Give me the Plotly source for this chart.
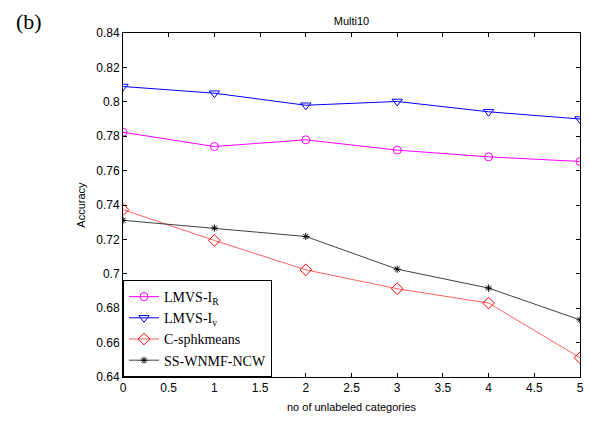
import plotly.graph_objects as go

x_vals = [0, 1, 2, 3, 4, 5]
lmvs_ir = [0.7823, 0.7740, 0.7779, 0.7719, 0.7680, 0.7653]
lmvs_iv = [0.8089, 0.8050, 0.7980, 0.8002, 0.7942, 0.7900]
c_sphk = [0.7373, 0.7194, 0.7023, 0.6913, 0.6830, 0.6512]
ss_wnmf = [0.7311, 0.7266, 0.7217, 0.7027, 0.6917, 0.6732]

y_ticks = [0.64, 0.66, 0.68, 0.70, 0.72, 0.74, 0.76, 0.78, 0.80, 0.82, 0.84]
y_tick_text = ["0.64", "0.66", "0.68", "0.7", "0.72", "0.74", "0.76", "0.78", "0.8", "0.82", "0.84"]
x_ticks = [0, 0.5, 1, 1.5, 2, 2.5, 3, 3.5, 4, 4.5, 5]
x_tick_text = ["0", "0.5", "1", "1.5", "2", "2.5", "3", "3.5", "4", "4.5", "5"]

fig = go.Figure()
fig.add_trace(go.Scatter(x=x_vals, y=lmvs_ir, mode="lines+markers", name="LMVS-I<sub>R</sub>",
                         line=dict(color="#ff00ff", width=1),
                         marker=dict(symbol="circle-open", size=8, color="#ff00ff", line=dict(width=1))))
fig.add_trace(go.Scatter(x=x_vals, y=lmvs_iv, mode="lines+markers", name="LMVS-I<sub>v</sub>",
                         line=dict(color="#0000ff", width=1),
                         marker=dict(symbol="triangle-down-open", size=9, color="#0000ff", line=dict(width=1))))
fig.add_trace(go.Scatter(x=x_vals, y=c_sphk, mode="lines+markers", name="C-sphkmeans",
                         line=dict(color="#ff6060", width=1),
                         marker=dict(symbol="diamond-open", size=9, color="#ff0000", line=dict(width=1))))
fig.add_trace(go.Scatter(x=x_vals, y=ss_wnmf, mode="lines+markers", name="SS-WNMF-NCW",
                         line=dict(color="#404040", width=1),
                         marker=dict(symbol="asterisk-open", size=6, color="#000000", line=dict(width=1, color="#000000"))))

axis_common = dict(showline=True, linecolor="black", linewidth=1, mirror="ticks", ticks="inside",
                   ticklen=4, tickcolor="black", showgrid=False, zeroline=False,
                   tickfont=dict(family="Liberation Sans, Arial", size=12, color="black"))

fig.update_layout(
    width=589, height=428,
    margin=dict(l=123, r=5, t=33, b=51),
    paper_bgcolor="white", plot_bgcolor="white",
    title=dict(text="Multi10", x=0.5, xref="paper", y=1, yref="paper", yanchor="bottom", pad=dict(b=8),
               font=dict(family="Liberation Sans, Arial", size=11, color="black")),
    xaxis=dict(range=[0, 5], tickvals=x_ticks, ticktext=x_tick_text,
               title=dict(text="no of unlabeled categories", standoff=8,
                          font=dict(family="Liberation Sans, Arial", size=11, color="black")),
               **axis_common),
    yaxis=dict(range=[0.64, 0.84], tickvals=y_ticks, ticktext=y_tick_text,
               title=dict(text="Accuracy", standoff=8,
                          font=dict(family="Liberation Sans, Arial", size=11, color="black")),
               **axis_common),
    legend=dict(x=0, y=0, xanchor="left", yanchor="bottom", bordercolor="black", borderwidth=1,
                bgcolor="white", font=dict(family="Liberation Serif, Times New Roman", size=14, color="black"),
                tracegroupgap=0, itemwidth=30),
    showlegend=True,
)
fig.add_annotation(text="(b)", xref="paper", yref="paper",
                   x=-(123 - 28) / 461, y=1 + (33 - 22) / 344, xanchor="center", yanchor="middle",
                   showarrow=False,
                   font=dict(family="Liberation Serif, Times New Roman", size=22, color="black"))

fig.write_html("out.html")
